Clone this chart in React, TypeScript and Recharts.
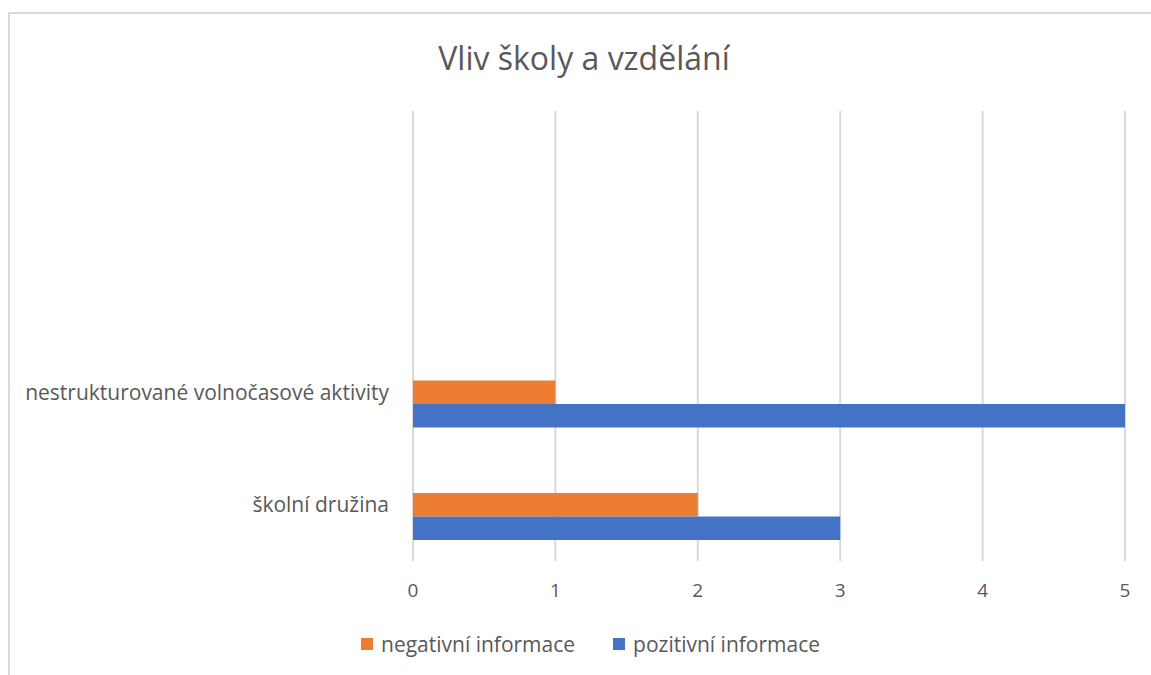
import React from 'react';
import { BarChart, Bar, XAxis, YAxis, CartesianGrid, Legend } from 'recharts';

const categories = [' ', '  ', 'nestrukturované volnočasové aktivity', 'školní družina'];
const negativni = [null, null, 1, 2];
const pozitivni = [null, null, 5, 3];
const xTicks = [0, 1, 2, 3, 4, 5];
const seriesNames = { neg: 'negativní informace', poz: 'pozitivní informace' };

const data = categories.map((c, i) => ({
  name: c,
  empty: null,
  neg: negativni[i],
  poz: pozitivni[i],
}));

const FONT = '"Open Sans", sans-serif';
const TEXT = '#595959';

const renderLegend = (props: any) => {
  const items = (props.payload || []).filter((p: any) => p.type !== 'none' && p.value);
  return (
    <div style={{ display: 'flex', alignItems: 'center', fontFamily: FONT, fontSize: 21, color: TEXT, lineHeight: '24px' }}>
      {items.map((p: any, i: number) => (
        <div key={i} style={{ display: 'flex', alignItems: 'center', marginRight: 38 }}>
          <span style={{ display: 'inline-block', width: 12, height: 12, background: p.color, marginRight: 8 }} />
          <span>{p.value}</span>
        </div>
      ))}
    </div>
  );
};

export default function App() {
  return (
    <div
      style={{
        position: 'absolute',
        left: 8,
        top: 12,
        width: 1143,
        height: 663,
        borderLeft: '2px solid #d9d9d9',
        borderTop: '2px solid #d9d9d9',
        background: '#fff',
        overflow: 'hidden',
      }}
    >
      <div
        style={{
          position: 'absolute',
          left: 274,
          width: 600,
          top: 24,
          textAlign: 'center',
          fontFamily: FONT,
          fontSize: 32,
          lineHeight: '40px',
          color: TEXT,
        }}
      >
        Vliv školy a vzdělání
      </div>
      <BarChart
        width={1141}
        height={661}
        data={data}
        layout="vertical"
        margin={{ top: 97, right: 26, bottom: 84, left: 0 }}
        barGap={0}
        barSize={23.5}
      >
        <CartesianGrid horizontal={false} vertical={true} stroke="#d9d9d9" strokeWidth={2} />
        <XAxis
          type="number"
          domain={[0, 5]}
          ticks={xTicks}
          axisLine={false}
          tickLine={false}
          tickMargin={17}
          height={30}
          tick={{ fill: TEXT, fontSize: 19, fontFamily: FONT }}
        />
        <YAxis
          type="category"
          dataKey="name"
          width={403}
          axisLine={false}
          tickLine={false}
          tickMargin={18}
          interval={0}
          tick={{ fill: TEXT, fontSize: 21, fontFamily: FONT }}
        />
        <Legend
          layout="horizontal"
          verticalAlign="middle"
          align="center"
          content={renderLegend}
          wrapperStyle={{ left: 351, top: 618, width: 540, height: 24 }}
        />
        <Bar dataKey="empty" name="" fill="transparent" legendType="none" isAnimationActive={false} />
        <Bar dataKey="neg" name={seriesNames.neg} fill="#ED7D31" isAnimationActive={false} />
        <Bar dataKey="poz" name={seriesNames.poz} fill="#4472C4" isAnimationActive={false} />
      </BarChart>
    </div>
  );
}
